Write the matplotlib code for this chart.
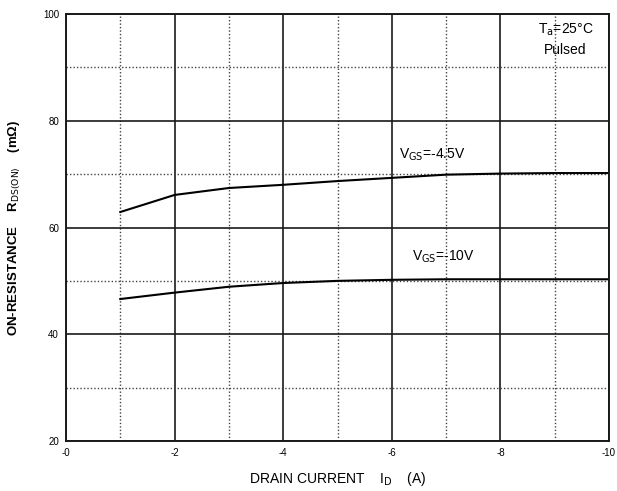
import matplotlib.pyplot as plt
from matplotlib.ticker import MultipleLocator

plt.rcParams['font.family'] = ['Liberation Sans', 'DejaVu Sans']

# Drain current (A)
current = [-1, -2, -3, -4, -5, -6, -7, -8, -9, -10]
# On-resistance (mOhm)
r_vgs_45 = [62.9, 66.1, 67.4, 68.0, 68.7, 69.3, 69.9, 70.1, 70.2, 70.2]
r_vgs_10 = [46.6, 47.8, 48.9, 49.6, 50.0, 50.2, 50.3, 50.3, 50.3, 50.3]

x_ticks = [0, -2, -4, -6, -8, -10]
x_tick_labels = ["-0", "-2", "-4", "-6", "-8", "-10"]
y_ticks = [20, 40, 60, 80, 100]

fig = plt.figure(figsize=(6.17, 4.91), dpi=100)
ax = fig.add_axes([66 / 617, 50 / 491, 543 / 617, 427 / 491])

ax.plot(current, r_vgs_45, color="black", linewidth=1.5)
ax.plot(current, r_vgs_10, color="black", linewidth=1.5)

ax.set_xlim(0, -10)
ax.set_ylim(20, 100)
ax.set_xticks(x_ticks)
ax.set_xticklabels(x_tick_labels)
ax.set_yticks(y_ticks)
ax.xaxis.set_minor_locator(MultipleLocator(1))
ax.yaxis.set_minor_locator(MultipleLocator(10))

ax.grid(which="major", color="#1a1a1a", linewidth=1.2, linestyle="-")
ax.grid(which="minor", color="#444444", linewidth=1.0, linestyle=(0, (1, 1.5)))
ax.tick_params(which="both", length=0, labelsize=7, pad=5)
for s in ax.spines.values():
    s.set_color("#1a1a1a")
    s.set_linewidth(1.4)

ax.text(-9.2, 97.0, r"T$_{\rm a}$=25°C", fontsize=10, ha="center", va="center")
ax.text(-9.2, 93.3, "Pulsed", fontsize=10, ha="center", va="center")
ax.text(-6.75, 73.7, r"V$_{\rm GS}$=-4.5V", fontsize=10, ha="center", va="center")
ax.text(-6.95, 54.5, r"V$_{\rm GS}$=-10V", fontsize=10, ha="center", va="center")

ax.set_xlabel(r"DRAIN CURRENT    I$_{\rm D}$    (A)", fontsize=10, labelpad=9)
ax.set_ylabel(r"ON-RESISTANCE    R$_{\rm DS(ON)}$    (mΩ)", fontsize=9.5, labelpad=14,
              fontweight="bold")

fig.savefig("out.png", dpi=100)
